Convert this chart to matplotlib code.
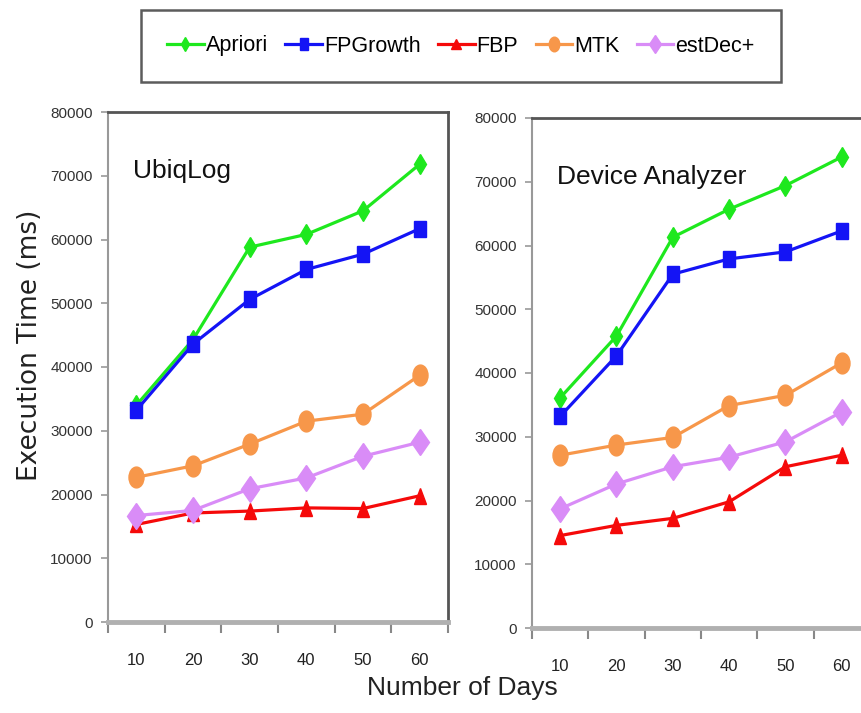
import numpy as np
import matplotlib
matplotlib.use('Agg')
import matplotlib.pyplot as plt
from matplotlib.markers import MarkerStyle
from matplotlib.transforms import Affine2D

days = ['10', '20', '30', '40', '50', '60']
methods = ['Apriori', 'FPGrowth', 'FBP', 'MTK', 'estDec+']

# UbiqLog panel
ubiq_apriori = [34000, 44300, 58800, 60800, 64500, 71800]
ubiq_fpgrowth = [33200, 43600, 50600, 55300, 57700, 61700]
ubiq_fbp = [15300, 17100, 17400, 17900, 17800, 19800]
ubiq_mtk = [22700, 24500, 27900, 31500, 32600, 38700]
ubiq_estdec = [16700, 17500, 20900, 22600, 26000, 28200]

# Device Analyzer panel
dev_apriori = [36100, 45800, 61300, 65700, 69400, 73900]
dev_fpgrowth = [33200, 42700, 55500, 57900, 59000, 62300]
dev_fbp = [14500, 16100, 17200, 19800, 25300, 27100]
dev_mtk = [27100, 28700, 29900, 34900, 36500, 41600]
dev_estdec = [18700, 22600, 25300, 26800, 29200, 33900]

colors = ['#1ee81e', '#1414f5', '#f50a0a', '#f7974a', '#d98cf7']

def narrow(m, sx, sy=1.0):
    return MarkerStyle(m, transform=Affine2D().scale(sx, sy))

markers = [narrow('D', 0.45, 0.75), narrow('s', 0.75), narrow('^', 0.85),
           narrow('o', 0.72), narrow('D', 0.55, 0.8)]
msizes = [13, 12, 11, 15, 16]

FONT = 'Liberation Sans'

fig = plt.figure(figsize=(8.62, 7.13), dpi=100)

ax1 = fig.add_axes([108/862, 1 - 622/713, 340/862, 510/713])
ax2 = fig.add_axes([532/862, 1 - 628/713, 338/862, 510/713])

panels = [
    (ax1, 'UbiqLog', [ubiq_apriori, ubiq_fpgrowth, ubiq_fbp, ubiq_mtk, ubiq_estdec]),
    (ax2, 'Device Analyzer', [dev_apriori, dev_fpgrowth, dev_fbp, dev_mtk, dev_estdec]),
]

x = np.arange(len(days))
handles = []
for ax, title, series in panels:
    handles = []
    for vals, name, c, m, ms in zip(series, methods, colors, markers, msizes):
        h, = ax.plot(x, vals, color=c, lw=2.3, marker=m, markersize=ms,
                     markeredgecolor=c, label=name, clip_on=False, zorder=3)
        handles.append(h)
    ax.set_xlim(-0.5, 5.5)
    ax.set_ylim(0, 80000)
    ax.set_yticks(range(0, 80001, 10000))
    ax.set_xticks(np.arange(-0.5, 6, 1))
    ax.set_xticklabels([])
    ax.set_xticks(x, minor=True)
    ax.set_xticklabels(days, minor=True, fontsize=12, family=FONT, color='#222222')
    ax.tick_params(axis='x', which='major', length=8, width=1.5, color='#888888', direction='out')
    ax.tick_params(axis='x', which='minor', length=0, pad=22)
    ax.tick_params(axis='y', length=5, width=1.2, color='#999999', pad=6,
                   labelcolor='#333333')
    for lab in ax.get_yticklabels():
        lab.set_family(FONT)
        lab.set_fontsize(11)
    ax.spines['top'].set_color('#555555')
    ax.spines['top'].set_linewidth(2)
    ax.spines['right'].set_color('#555555')
    ax.spines['right'].set_linewidth(2)
    ax.spines['left'].set_color('#999999')
    ax.spines['left'].set_linewidth(1.5)
    ax.spines['bottom'].set_color('#b0b0b0')
    ax.spines['bottom'].set_linewidth(3.5)
    ax.text(0.075, 0.885, title, transform=ax.transAxes, fontsize=19,
            family=FONT, color='#111111', va='center')

fig.text(30/862, 1 - 345/713, 'Execution Time (ms)', rotation=90, fontsize=19,
         ha='center', va='center', color='#222222')
fig.text(462/862, 1 - 688/713, 'Number of Days', fontsize=19, ha='center',
         va='center', family=FONT, color='#222222')

leg = fig.legend(handles, methods, loc='center', bbox_to_anchor=(461/862, 1 - 46/713),
                 ncol=5, handlelength=1.7, handletextpad=0.1,
                 columnspacing=0.8, borderpad=1.2, fancybox=False, markerscale=0.7,
                 prop={'family': FONT, 'size': 15.5})
leg.get_frame().set_edgecolor('#333333')
leg.get_frame().set_linewidth(1.8)

fig.savefig('out.png', dpi=100)
